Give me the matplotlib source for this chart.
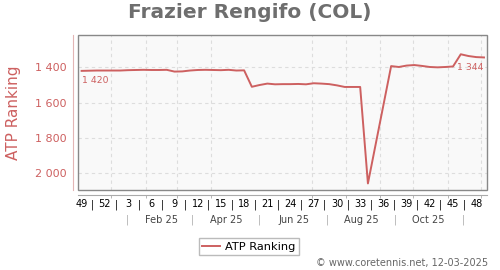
import datetime as dt
import matplotlib
matplotlib.use('Agg')
import matplotlib.pyplot as plt
import matplotlib.dates as mdates
from matplotlib.patches import Rectangle

RED = '#cd6060'

# weekly ATP ranking, index = weeks after the first shown week (wk 49 / 2024)
week_idx = [0, 1, 2, 3, 4, 5, 6, 7, 8, 9, 10, 11, 12, 13, 14, 15, 16, 17, 18,
            19, 20, 21, 22, 23, 24, 25, 26, 27, 28, 29, 30, 31, 32, 33, 34, 35,
            36, 37, 40, 41, 42, 43, 44, 45, 46, 47, 48, 49, 50, 51, 52]
ranking = [1420, 1419, 1418, 1418, 1418, 1418, 1416, 1415, 1414, 1415, 1415,
           1414, 1424, 1423, 1418, 1415, 1414, 1415, 1416, 1414, 1418, 1417,
           1510, 1500, 1492, 1496, 1495, 1495, 1494, 1496, 1490, 1492, 1495,
           1502, 1511, 1511, 1511, 2057, 1393, 1398, 1390, 1387, 1392, 1398,
           1400, 1398, 1395, 1326, 1336, 1342, 1344]
week_labels = ['49', '52', '3', '6', '9', '12', '15', '18', '21', '24', '27',
               '30', '33', '36', '39', '42', '45', '48']
month_labels = ['Feb 25', 'Apr 25', 'Jun 25', 'Aug 25', 'Oct 25']
month_nums = [2, 4, 6, 8, 10]
first_label, last_label = '1 420', '1 344'

start = dt.date(2024, 12, 5)
dates = [start + dt.timedelta(weeks=i) for i in week_idx]

fig = plt.figure(figsize=(5, 2.7), dpi=100)
ax = fig.add_axes([78.3 / 500, 1 - 190 / 270, 409 / 500, 155 / 270])
ax.set_facecolor('#f9f9f9')

ax.plot(dates, ranking, color=RED, lw=1.4, label='ATP Ranking', zorder=4)

ax.set_xlim(start - dt.timedelta(days=3.4), start + dt.timedelta(days=367))
ax.set_ylim(2094, 1217)

# y axis
yt = [1400, 1600, 1800, 2000]
ax.set_yticks(yt)
ax.set_yticklabels([f'{v:,}'.replace(',', ' ') for v in yt])
ax.tick_params(axis='y', length=0, pad=5, labelsize=8, labelcolor=RED)
ax.set_ylabel('ATP Ranking', color=RED, fontsize=11)
ax.yaxis.set_label_coords(-0.14, 0.5)

# x axis: week numbers with separators
pos, labs = [], []
for k, w in enumerate(week_labels):
    pos.append(start + dt.timedelta(weeks=3 * k))
    labs.append(w)
    if k < len(week_labels) - 1:
        pos.append(start + dt.timedelta(weeks=3 * k + 1.5))
        labs.append('|')
ax.set_xticks(pos)
ax.set_xticklabels(labs)
for t in ax.get_xticklabels():
    t.set_color('#aaaaaa' if t.get_text() == '|' else '#444444')
month_starts = [dt.date(2025, m, 1) for m in range(1, 13)]
ax.set_xticks(month_starts, minor=True)
ax.tick_params(axis='x', which='major', length=0, pad=3, labelsize=7)
ax.tick_params(axis='x', which='minor', length=2, color='#aaaaaa')

# second row: months
xtr = ax.get_xaxis_transform()
for m, lab in zip(month_nums, month_labels):
    ax.text(dt.date(2025, m, 15), -0.194, lab, transform=xtr, ha='center',
            va='center', fontsize=7, color='#444444')
for m in [1, 3, 5, 7, 9, 11]:
    ax.text(dt.date(2025, m, 15), -0.194, '|', transform=xtr, ha='center',
            va='center', fontsize=7, color='#aaaaaa')

# grid
ax.grid(which='major', axis='y', color='#dddddd', ls=(0, (3, 3)), lw=0.8)
ax.grid(which='minor', axis='x', color='#dddddd', ls=(0, (3, 3)), lw=0.8)
ax.grid(which='major', axis='x', visible=False)

# spines
for s in ['top', 'right']:
    ax.spines[s].set_visible(False)
ax.spines['left'].set_position(('outward', 3.6))
ax.spines['left'].set_color('#e3b5b5')
ax.spines['bottom'].set_position(('outward', 3.6))
ax.spines['bottom'].set_color('#aaaaaa')
ax.add_patch(Rectangle((0, 0), 1, 1, transform=ax.transAxes, fill=False,
                       edgecolor='#888888', lw=1, clip_on=False, zorder=5))

# first / last values
ax.text(dates[0], 1472, first_label, ha='left', va='center', fontsize=6.7, color=RED)
ax.text(dates[-1], 1401, last_label, ha='right', va='center', fontsize=6.7, color=RED)

fig.text(0.5, 1 - 13 / 270, 'Frazier Rengifo (COL)', ha='center', va='center',
         fontsize=14.5, weight='bold', color='#6e6e6e')
fig.legend(loc='center', bbox_to_anchor=(249 / 500, 1 - 246.7 / 270), fontsize=8.2,
           frameon=True, fancybox=False, edgecolor='#aaaaaa', handlelength=1.5,
           borderpad=0.3, handletextpad=0.5)
fig.text(488 / 500, 1 - 263 / 270, '© www.coretennis.net, 12-03-2025', ha='right',
         va='center', fontsize=7, color='#666666')

fig.savefig('out.png', dpi=100)
